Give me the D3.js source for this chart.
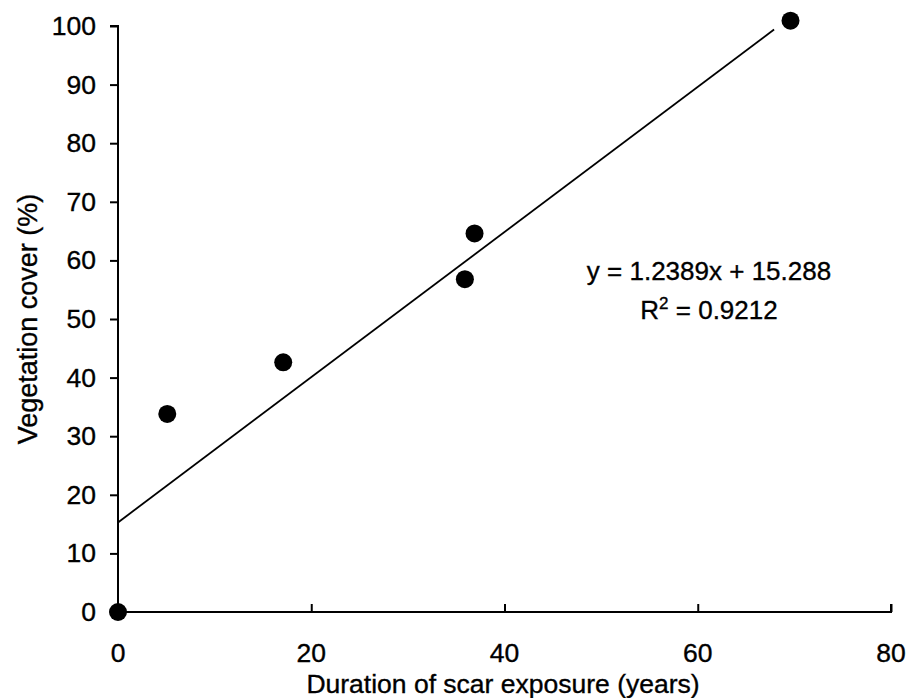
<!DOCTYPE html>
<html><head><meta charset="utf-8">
<script src="https://cdn.jsdelivr.net/npm/d3@7"></script>
<style>body{margin:0;background:#fff}svg{display:block}text{font-family:"Liberation Sans",Arial,sans-serif;fill:#000;stroke:#000;stroke-width:0.35px}</style>
</head><body>
<svg id="c" width="910" height="698"></svg>
<script>
const durationYears = [0, 5.1, 17.1, 35.9, 36.9, 69.6];
const vegetationCover = [0, 33.8, 42.6, 56.8, 64.6, 100.9];
const xTicks = [0, 20, 40, 60, 80];
const yTicks = [0, 10, 20, 30, 40, 50, 60, 70, 80, 90, 100];
const slope = 1.2389, intercept = 15.288;
const trendX = [0, 67.9];
const equationText = "y = 1.2389x + 15.288";
const r2Value = "0.9212";

const svg = d3.select("#c");
const x = d3.scaleLinear().domain([0, 80]).range([118, 891]);
const y = d3.scaleLinear().domain([0, 100]).range([612, 26]);
const FS = 26.5;

const xAxis = svg.append("g").attr("transform", "translate(0,612)")
  .call(d3.axisTop(x).tickValues(xTicks).tickSize(8).tickFormat(""));
xAxis.selectAll("path,line").attr("stroke", "#000").attr("stroke-width", 2);
xAxis.select(".domain").attr("d", `M${x(0)},0H${x(80)}V-8`);
svg.append("g").selectAll("text").data(xTicks).join("text")
  .attr("x", d => x(d)).attr("y", 662).attr("text-anchor", "middle")
  .attr("font-size", FS).text(d => d);

const yAxis = svg.append("g").attr("transform", "translate(118,0)")
  .call(d3.axisLeft(y).tickValues(yTicks).tickSize(8).tickPadding(14));
yAxis.selectAll("path,line").attr("stroke", "#000").attr("stroke-width", 2);
yAxis.select(".domain").attr("d", `M-8,${y(100)}H0V${y(0)}`);
yAxis.selectAll("text").attr("font-size", FS).attr("font-family", "Liberation Sans, Arial, sans-serif").attr("fill", "#000");

svg.append("line")
  .attr("x1", x(trendX[0])).attr("y1", y(slope * trendX[0] + intercept))
  .attr("x2", x(trendX[1])).attr("y2", y(slope * trendX[1] + intercept))
  .attr("stroke", "#000").attr("stroke-width", 1.8);

svg.append("g").selectAll("circle").data(durationYears).join("circle")
  .attr("cx", d => x(d)).attr("cy", (d, i) => y(vegetationCover[i]))
  .attr("r", 9).attr("fill", "#000");

svg.append("text").attr("x", 709).attr("y", 280).attr("text-anchor", "middle")
  .attr("font-size", 26).text(equationText);
const r2 = svg.append("text").attr("x", 709).attr("y", 319).attr("text-anchor", "middle").attr("font-size", 26);
r2.append("tspan").text("R");
r2.append("tspan").attr("font-size", 17).attr("dy", -10).text("2");
r2.append("tspan").attr("dy", 10).text(" = " + r2Value);

svg.append("text").attr("x", 503).attr("y", 693).attr("text-anchor", "middle")
  .attr("font-size", FS).text("Duration of scar exposure (years)");
svg.append("text").attr("transform", "translate(37,319) rotate(-90)").attr("text-anchor", "middle")
  .attr("font-size", 27).text("Vegetation cover (%)");
</script>
</body></html>
